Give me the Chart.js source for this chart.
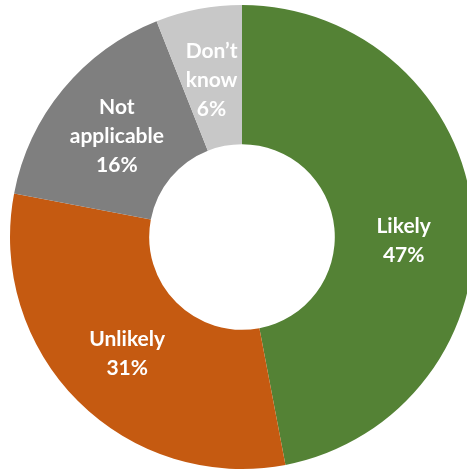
<!DOCTYPE html>
<html>
<head>
<meta charset="utf-8">
<script src="https://cdn.jsdelivr.net/npm/chart.js@4/dist/chart.umd.min.js"></script>
<style>
  html, body { margin: 0; padding: 0; background: #fff; overflow: hidden; }
  #wrap { position: absolute; left: 0; top: 0; width: 484px; height: 474px; }
</style>
</head>
<body>
<div id="wrap"><canvas id="chart" width="484" height="474"></canvas></div>
<script>
// survey answers, clockwise from 12 o'clock
const categories = ['Likely', 'Unlikely', 'Not applicable', 'Don\u2019t know'];
const labelLines = [['Likely'], ['Unlikely'], ['Not', 'applicable'], ['Don\u2019t', 'know']];
const values = [47, 31, 16, 6];
const sliceColors = ['#548235', '#C55A11', '#7F7F7F', '#C8C8C8'];

// white labels in the middle of each ring segment
const LABEL_NUDGE = [19, 2, 3, 3]; // px down from the segment centre, per slice
const sliceLabels = {
  id: 'sliceLabels',
  afterDatasetsDraw(chart) {
    const ctx = chart.ctx;
    const meta = chart.getDatasetMeta(0);
    const total = values.reduce((a, b) => a + b, 0);
    ctx.save();
    ctx.fillStyle = '#ffffff';
    ctx.font = 'bold 21px Lato, "Open Sans", sans-serif';
    ctx.textAlign = 'center';
    ctx.textBaseline = 'alphabetic';
    meta.data.forEach((arc, i) => {
      const p = arc.tooltipPosition();
      const lines = labelLines[i].concat([Math.round(values[i] / total * 100) + '%']);
      const lh = 29;
      const y0 = p.y + LABEL_NUDGE[i] + 7 - (lines.length - 1) * lh / 2;
      lines.forEach((t, j) => ctx.fillText(t, p.x, y0 + j * lh));
    });
    ctx.restore();
  },
};

new Chart(document.getElementById('chart'), {
  type: 'doughnut',
  data: {
    labels: categories,
    datasets: [{
      data: values,
      backgroundColor: sliceColors,
      borderWidth: 0,
    }],
  },
  options: {
    responsive: false,
    animation: false,
    cutout: '40%',
    layout: { padding: 5 },
    plugins: {
      legend: { display: false },
      tooltip: { enabled: false },
    },
  },
  plugins: [sliceLabels],
});
</script>
</body>
</html>
